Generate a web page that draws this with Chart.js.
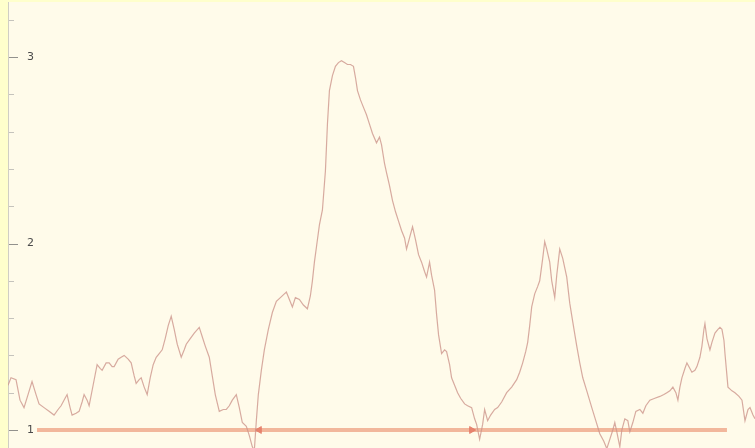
<!DOCTYPE html>
<html>
<head>
<meta charset="utf-8">
<script src="https://cdn.jsdelivr.net/npm/chart.js@4"></script>
<style>
  html, body { margin: 0; padding: 0; background: #ffffcc; }
  #wrap { width: 755px; height: 448px; }
</style>
</head>
<body>
<div id="wrap"><canvas id="c" width="755" height="448"></canvas></div>
<script>
// Sample times
const t = [
  0,3,8,12,16,20,24,28,31,36,
  41,46,50,53,57,59,62,64,68,71,
  74,76,79,81,85,89,92,94,98,101,
  104,106,110,113,116,120,123,126,128,131,
  133,136,139,142,145,148,151,154,157,160,
  163,166,169,173,176,178,182,186,191,194,
  197,201,204,207,211,215,218,221,224,228,
  231,234,238,241,244,246,248,250,253,256,
  260,264,268,272,276,278,281,284,287,291,
  295,299,302,304,306,308,311,314,317,319,
  321,324,327,330,333,336,339,342,345,347,
  349,352,355,358,361,364,368,371,373,376,
  378,381,384,387,390,393,396,398,401,404,
  407,410,413,416,418,421,423,426,428,430,
  433,436,438,441,443,446,449,452,456,459,
  463,466,468,471,474,476,479,482,486,489,
  493,498,503,508,511,514,517,519,521,523,
  526,529,531,534,536,538,541,543,546,548,
  551,554,558,561,564,568,571,574,578,583,
  587,591,595,598,601,604,606,608,611,613,
  616,619,621,624,627,631,634,637,641,646,
  651,655,658,661,664,667,669,671,673,676,
  678,681,683,686,688,691,693,695,696,698,
  701,703,706,709,711,713,715,716,718,719,
  723,726,730,733,736,739,741,744,746
];

// Signal level at each sample
const level = [
  1.24,1.28,1.27,1.16,1.12,1.19,1.26,1.19,1.14,1.12,
  1.10,1.08,1.11,1.13,1.17,1.19,1.12,1.08,1.09,1.10,
  1.15,1.19,1.16,1.13,1.24,1.35,1.33,1.32,1.36,1.36,
  1.34,1.34,1.38,1.39,1.40,1.38,1.36,1.29,1.25,1.27,
  1.28,1.23,1.19,1.28,1.35,1.39,1.41,1.43,1.49,1.56,
  1.61,1.54,1.46,1.39,1.43,1.46,1.49,1.52,1.55,1.50,
  1.45,1.39,1.29,1.19,1.10,1.11,1.11,1.13,1.16,1.19,
  1.12,1.04,1.02,0.97,0.91,0.89,1.05,1.19,1.32,1.43,
  1.54,1.63,1.69,1.71,1.73,1.74,1.70,1.66,1.71,1.70,
  1.67,1.65,1.72,1.80,1.90,1.98,2.10,2.18,2.39,2.64,
  2.82,2.90,2.95,2.97,2.98,2.97,2.96,2.96,2.95,2.89,
  2.82,2.77,2.73,2.69,2.64,2.59,2.54,2.57,2.53,2.43,
  2.38,2.31,2.23,2.17,2.12,2.07,2.03,1.97,2.03,2.09,
  2.02,1.94,1.90,1.85,1.82,1.90,1.83,1.75,1.62,1.51,
  1.41,1.43,1.42,1.35,1.28,1.24,1.20,1.17,1.14,1.13,
  1.12,1.06,1.03,0.95,1.03,1.11,1.05,1.08,1.11,1.12,
  1.15,1.20,1.23,1.27,1.31,1.36,1.42,1.47,1.56,1.66,
  1.73,1.77,1.80,1.92,2.01,1.97,1.90,1.80,1.71,1.83,
  1.97,1.92,1.82,1.68,1.58,1.45,1.36,1.28,1.21,1.12,
  1.05,0.98,0.94,0.90,0.95,1.00,1.04,0.99,0.91,1.00,
  1.06,1.05,0.99,1.04,1.10,1.11,1.09,1.13,1.16,1.17,
  1.18,1.19,1.20,1.21,1.23,1.20,1.16,1.23,1.28,1.33,
  1.36,1.33,1.31,1.32,1.34,1.39,1.45,1.54,1.57,1.49,
  1.43,1.47,1.52,1.54,1.55,1.54,1.48,1.41,1.29,1.23,
  1.21,1.20,1.18,1.16,1.05,1.11,1.12,1.08,1.06
];

// Reference level band with the two crossing markers
const baseline = 1;
const bandTimes = [29, 251, 463, 718];
const bandArrowRotation = [0, 270, 90, 0];
const bandArrowSize = [0, 4, 4, 0];

// Y axis ticks: labelled units, unlabelled fifths
const yTickValues = [5, 6, 7, 8, 9, 10, 11, 12, 13, 14, 15, 16].map(n => n / 5);
const yRange = [0.9035, 3.295];
const tRange = [0, 746];

const isWhole = v => Math.abs(v - Math.round(v)) < 1e-6;

const panelBackground = {
  id: 'panelBackground',
  beforeDraw(chart) {
    const { ctx, chartArea: a } = chart;
    ctx.save();
    ctx.fillStyle = '#ffffcc';
    ctx.fillRect(0, 0, chart.width, chart.height);
    ctx.fillStyle = '#fffbea';
    ctx.fillRect(a.left, a.top, a.right - a.left, a.bottom - a.top);
    ctx.restore();
  }
};

// Inward tick marks on the left edge of the panel
const innerTicks = {
  id: 'innerTicks',
  afterDraw(chart) {
    const { ctx, chartArea: a } = chart;
    const s = chart.scales.y;
    ctx.save();
    ctx.lineWidth = 1;
    s.ticks.forEach(tk => {
      const y = Math.round(s.getPixelForValue(tk.value)) + 0.5;
      const major = isWhole(tk.value);
      ctx.strokeStyle = major ? 'rgba(110,110,110,0.75)' : 'rgba(150,150,150,0.55)';
      ctx.beginPath();
      ctx.moveTo(a.left + 1, y);
      ctx.lineTo(a.left + (major ? 10 : 6), y);
      ctx.stroke();
    });
    ctx.restore();
  }
};

new Chart(document.getElementById('c'), {
  type: 'line',
  data: {
    datasets: [
      {
        label: 'signal',
        data: t.map((x, i) => ({ x, y: level[i] })),
        borderColor: 'rgba(205,150,140,0.8)',
        borderWidth: 1.2,
        pointRadius: 0,
        tension: 0,
        fill: false
      },
      {
        label: 'baseline',
        data: bandTimes.map(x => ({ x, y: baseline })),
        borderColor: 'rgba(238,160,130,0.75)',
        borderWidth: 4,
        pointStyle: 'triangle',
        pointRotation: bandArrowRotation,
        pointRadius: bandArrowSize,
        pointBackgroundColor: 'rgba(228,120,100,0.8)',
        pointBorderColor: 'rgba(228,120,100,0.8)',
        pointBorderWidth: 1,
        tension: 0,
        fill: false
      }
    ]
  },
  options: {
    responsive: false,
    animation: false,
    devicePixelRatio: 1,
    layout: { padding: { left: 8, top: 2, right: 0, bottom: 0 } },
    plugins: { legend: { display: false }, tooltip: { enabled: false } },
    scales: {
      x: {
        type: 'linear',
        min: tRange[0],
        max: tRange[1],
        display: false
      },
      y: {
        type: 'linear',
        min: yRange[0],
        max: yRange[1],
        afterBuildTicks: scale => { scale.ticks = yTickValues.map(value => ({ value })); },
        afterFit: scale => {
          scale.width = 0;
          scale.paddingTop = 0;
          scale.paddingBottom = 0;
          scale.paddingLeft = 0;
          scale.paddingRight = 0;
        },
        grid: { display: true, drawOnChartArea: false, drawTicks: false },
        border: { display: true, color: 'rgba(150,150,150,0.45)', width: 1 },
        ticks: {
          mirror: true,
          padding: 19,
          color: '#4a4a4a',
          font: { family: 'DejaVu Sans', size: 11 },
          callback: v => (isWhole(v) ? String(Math.round(v)) : '')
        }
      }
    }
  },
  plugins: [panelBackground, innerTicks]
});
</script>
</body>
</html>
